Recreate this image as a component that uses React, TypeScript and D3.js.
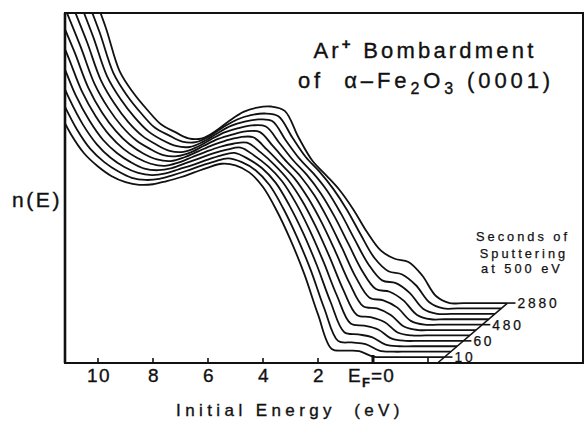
import React from "react";
import * as d3 from "d3";

// Energy grid (eV, binding energy relative to E_F) shared by every spectrum
const energyGrid = [14, 13, 12.5, 12, 11.5, 11, 10.5, 10, 9.5, 9, 8.5, 8, 7.5, 7, 6.5, 6, 5.5, 5, 4.5, 4, 3.5, 3, 2.5, 2, 1.5, 1, 0.5, 0, -0.5, -1, -2, -2.6];

// Sputtering times (s) for the stacked spectra, bottom to top
const sputterSeconds = [10, 20, 30, 60, 120, 240, 480, 960, 1440, 1920, 2880];
const labeledSeconds = [10, 60, 480, 2880];

// n(E) in arbitrary units, one array per sputtering time
const n10s = [70, 64, 58.5, 53, 47.5, 42.5, 38.8, 36.4, 34.6, 33.5, 33.0, 33.1, 33.7, 34.4, 35.3, 36.2, 36.9, 36.6, 35.3, 32.6, 28.2, 22.8, 16.5, 9.0, 2.6, 2.3, 2.2, 1.2, 1.1, 1.1, 1.1, 1.1];
const n20s = [70.4, 64.2, 58.5, 52.9, 47.2, 42.3, 38.6, 36.2, 34.5, 33.3, 32.9, 33.1, 33.8, 34.6, 35.5, 36.3, 36.9, 36.2, 34.7, 32.0, 27.7, 22.4, 16.3, 9.1, 3.1, 2.8, 2.5, 1.3, 1.1, 1.1, 1.1, 1.1];
const n30s = [70.8, 64.3, 58.6, 52.8, 46.9, 42.1, 38.5, 36.0, 34.3, 33.2, 32.8, 33.1, 33.9, 34.7, 35.6, 36.4, 36.9, 35.8, 34.1, 31.4, 27.2, 22.1, 16.1, 9.3, 3.7, 3.3, 2.8, 1.4, 1.1, 1.1, 1.1, 1.1];
const n60s = [71.3, 64.5, 58.6, 52.8, 46.6, 41.9, 38.3, 35.9, 34.2, 33.0, 32.7, 33.1, 34.0, 34.9, 35.8, 36.5, 36.9, 35.4, 33.4, 30.7, 26.7, 21.7, 15.9, 9.5, 4.3, 3.9, 3.2, 1.5, 1.1, 1.1, 1.1, 1.1];
const n120s = [71.7, 64.7, 58.7, 52.7, 46.3, 41.7, 38.2, 35.7, 34.0, 32.9, 32.5, 33.1, 34.1, 35.1, 36.0, 36.6, 36.8, 35.0, 32.7, 29.9, 26.1, 21.3, 15.7, 9.6, 4.9, 4.5, 3.6, 1.6, 1.1, 1.1, 1.1, 1.1];
const n240s = [72.2, 64.9, 58.7, 52.6, 46.0, 41.4, 38.0, 35.5, 33.8, 32.7, 32.4, 33.1, 34.2, 35.3, 36.2, 36.8, 36.8, 34.5, 31.9, 29.2, 25.5, 20.9, 15.5, 9.8, 5.5, 5.1, 3.9, 1.7, 1.1, 1.1, 1.1, 1.1];
const n480s = [72.6, 65.0, 58.8, 52.5, 45.7, 41.2, 37.8, 35.3, 33.7, 32.5, 32.3, 33.0, 34.3, 35.5, 36.3, 36.9, 36.8, 34.1, 31.2, 28.5, 25.0, 20.5, 15.3, 9.9, 6.1, 5.6, 4.3, 1.8, 1.1, 1.1, 1.1, 1.1];
const n960s = [73.1, 65.2, 58.8, 52.4, 45.4, 41.0, 37.6, 35.1, 33.5, 32.3, 32.1, 33.0, 34.4, 35.7, 36.5, 37.0, 36.8, 33.7, 30.5, 27.8, 24.4, 20.1, 15.1, 10.1, 6.7, 6.2, 4.6, 1.9, 1.1, 1.1, 1.1, 1.1];
const n1440s = [73.5, 65.4, 58.9, 52.3, 45.1, 40.8, 37.5, 34.9, 33.3, 32.2, 32.0, 33.0, 34.5, 35.9, 36.7, 37.1, 36.8, 33.2, 29.8, 27.1, 23.9, 19.7, 14.9, 10.3, 7.3, 6.8, 5.0, 2.0, 1.1, 1.1, 1.1, 1.1];
const n1920s = [74, 65.6, 58.9, 52.2, 44.7, 40.5, 37.3, 34.6, 33.2, 32.0, 31.9, 33.0, 34.7, 36.1, 36.9, 37.2, 36.7, 32.8, 29.1, 26.4, 23.2, 19.3, 14.7, 10.4, 8.0, 7.4, 5.4, 2.2, 1.1, 1.1, 1.1, 1.1];
const n2880s = [75, 66, 59, 52, 44, 40, 36.9, 34.2, 32.8, 31.6, 31.6, 33.0, 34.9, 36.5, 37.3, 37.5, 36.7, 31.8, 27.5, 24.8, 22.0, 18.4, 14.2, 10.8, 9.3, 8.7, 6.2, 2.4, 1.1, 1.1, 1.1, 1.1];

const spectra = [n10s, n20s, n30s, n60s, n120s, n240s, n480s, n960s, n1440s, n1920s, n2880s];

// Energy axis ticks
const energyTicks = [10, 8, 6, 4, 2, 0, -2];
const energyTickLabels = ["10", "8", "6", "4", "2"];

// Waterfall step between successive spectra (eV shift, n(E) lift)
const energyStep = 0.229;
const intensityStep = 1;

const W = 584;
const H = 425;
const plot = { left: 65, right: 583, top: 13, bottom: 363 };

const FONT = "'Liberation Sans', Arial, Helvetica, sans-serif";
const INK = "#111";

export default function App() {
  const x = d3.scaleLinear().domain([10, -2]).range([98, 428]);
  const y = d3.scaleLinear().domain([0, 65]).range([plot.bottom, 12]);

  const lineFor = (i: number) =>
    d3
      .line<number>()
      .x((_, j) => x(energyGrid[j] - i * energyStep))
      .y((v) => y(v + i * intensityStep))
      .curve(d3.curveCatmullRom.alpha(0.5));

  const tailE = energyGrid[energyGrid.length - 1];
  const tailN = (i: number) => spectra[i][spectra[i].length - 1] + i * intensityStep;
  const tailX = (i: number) => x(tailE - i * energyStep);

  // Time axis runs through the tail ends, from the energy axis up to the last spectrum
  const top = spectra.length - 1;
  const baseK = -spectra[0][spectra[0].length - 1] / intensityStep;
  const timeAxis = {
    x1: x(tailE - baseK * energyStep),
    y1: y(0),
    x2: tailX(top),
    y2: y(tailN(top)),
  };

  const textInk = { fill: INK, stroke: INK, strokeWidth: 0.35 };

  return (
    <svg
      width={W}
      height={H}
      style={{ position: "absolute", left: 0, top: 0, background: "#fff" }}
      fontFamily={FONT}
    >
      <defs>
        <clipPath id="plotClip">
          <rect x={plot.left} y={plot.top} width={plot.right - plot.left} height={plot.bottom - plot.top} />
        </clipPath>
      </defs>

      {/* spectra */}
      <g clipPath="url(#plotClip)" fill="none" stroke={INK} strokeWidth={1.8} strokeLinejoin="round">
        {spectra.map((s, i) => (
          <path key={sputterSeconds[i]} d={lineFor(i)(s) || ""} />
        ))}
      </g>

      {/* frame */}
      <path
        d={`M${plot.left},${plot.bottom} V${plot.top} H${plot.right} V${plot.bottom} Z`}
        fill="none"
        stroke={INK}
        strokeWidth={2}
      />
      <line x1={plot.left} x2={plot.left} y1={plot.top} y2={plot.bottom} stroke={INK} strokeWidth={2.6} />

      {/* energy ticks */}
      {energyTicks.map((t) => (
        <line
          key={t}
          x1={x(t)}
          x2={x(t)}
          y1={plot.bottom}
          y2={plot.bottom - (t === 0 ? 8 : 5)}
          stroke={INK}
          strokeWidth={t === 0 ? 3 : 1.6}
        />
      ))}
      {energyTickLabels.map((l) => (
        <text key={l} x={x(+l) + 1} y={382} textAnchor="middle" fontSize={19} letterSpacing={1.5} {...textInk}>
          {l}
        </text>
      ))}
      <text x={x(0) - 25} y={382} fontSize={19} letterSpacing={1.2} {...textInk}>
        E<tspan dy={5} fontSize={13} fontWeight="bold">F</tspan>
        <tspan dy={-5}>=0</tspan>
      </text>

      <text x={290} y={416} textAnchor="middle" fontSize={17} letterSpacing={4.4} {...textInk} xmlSpace="preserve">
        {"Initial Energy  (eV)"}
      </text>
      <text x={12} y={207} fontSize={21} letterSpacing={2.6} {...textInk}>
        n(E)
      </text>

      {/* title */}
      <text x={425} y={58} textAnchor="middle" fontSize={22} letterSpacing={3.2} {...textInk}>
        Ar<tspan dy={-9} fontSize={15} fontWeight="bold">+</tspan>
        <tspan dy={9}> Bombardment</tspan>
      </text>
      <text x={426} y={88} textAnchor="middle" fontSize={22} letterSpacing={3.9} {...textInk} xmlSpace="preserve">
        {"of  α–Fe"}
        <tspan dy={6} fontSize={16}>2</tspan>
        <tspan dy={-6}>O</tspan>
        <tspan dy={6} fontSize={16}>3</tspan>
        <tspan dy={-6}>{" (0001)"}</tspan>
      </text>

      {/* time axis legend */}
      <g fontSize={12.8} letterSpacing={3} fill={INK} stroke={INK} strokeWidth={0.25} textAnchor="middle">
        <text x={523} y={241}>Seconds of</text>
        <text x={524} y={258}>Sputtering</text>
        <text x={522} y={273}>at 500 eV</text>
      </g>
      <line {...timeAxis} stroke={INK} strokeWidth={1.6} />
      {labeledSeconds.map((sec) => {
        const i = sputterSeconds.indexOf(sec);
        const tx = tailX(i);
        const ty = y(tailN(i));
        return (
          <g key={sec}>
            <line x1={tx} x2={tx + 8} y1={ty} y2={ty} stroke={INK} strokeWidth={1.6} />
            <text x={tx + 10} y={ty + 5} fontSize={13.8} letterSpacing={2.8} fill={INK} stroke={INK} strokeWidth={0.25}>
              {sec}
            </text>
          </g>
        );
      })}
    </svg>
  );
}
